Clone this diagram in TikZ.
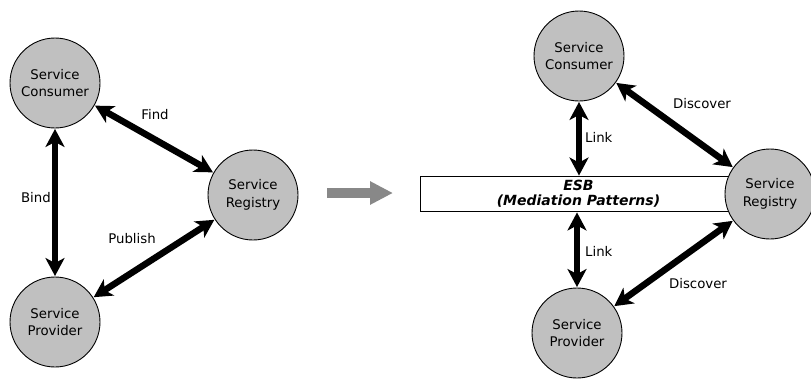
\documentclass[tikz,border=0pt]{standalone}
\usepackage{fontspec}
\setmainfont{DejaVu Sans}
\usetikzlibrary{arrows.meta}
\begin{document}
\begin{tikzpicture}[x=1pt,y=-1pt,
  svc/.style={circle,draw=black,line width=0.9pt,fill=svcgray,minimum size=90pt,inner sep=0pt,
    align=center,font=\fontsize{13.3}{17.5}\selectfont},
  dbl/.style={line width=6.5pt,{Stealth[length=18pt,width=19pt,inset=5pt]}-{Stealth[length=18pt,width=19pt,inset=5pt]},shorten <=0.5pt,shorten >=0.5pt},
  lbl/.style={font=\fontsize{13.3}{15}\selectfont,inner sep=0pt},
  flow/.style={line width=10pt,draw=flowgray,-{Triangle[length=23pt,width=22pt,inset=0pt]}}
]
\definecolor{svcgray}{RGB}{192,192,192}
\definecolor{flowgray}{RGB}{136,136,136}
\useasboundingbox (0,0) rectangle (811,378);

% classic triangle: consumer, registry, provider
\node[svc] (lc) at (55,83)  {Service\\Consumer};
\node[svc] (lr) at (253,195) {Service\\Registry};
\node[svc] (lp) at (55,322) {Service\\Provider};

\draw[dbl] (lc) -- (lr);
\draw[dbl] (lr) -- (lp);
\draw[dbl] (lc) -- (lp);

\node[lbl] (find) at (155,115) {Find};
\node[lbl] (publish) at (132,239) {Publish};
\node[lbl,anchor=east] (bind) at (51,198) {Bind};

% transition arrow
\coordinate (fa) at (327,193);
\coordinate (fb) at (393,193);
\draw[flow] (fa) -- (fb);

% bus-based arrangement
\node[draw=black,line width=0.9pt,fill=white,minimum width=316pt,minimum height=35pt,inner sep=0pt,
  align=center,font=\fontsize{14}{15}\selectfont\bfseries\itshape] (esb) at (578.5,194)
  {ESB\\(Mediation Patterns)};

\node[svc] (rc) at (579,56)  {Service\\Consumer};
\node[svc] (rr) at (770,194) {Service\\Registry};
\node[svc] (rp) at (577,333) {Service\\Provider};

\draw[dbl] (rc.south) -- (rc.south |- esb.north);
\draw[dbl] (rp.north |- esb.south) -- (rp.north);
\draw[dbl] (rc) -- (rr);
\draw[dbl] (rr) -- (rp);

\node[lbl,anchor=west] (link1) at (585,137) {Link};
\node[lbl,anchor=west] (link2) at (585,251) {Link};
\node[lbl] (disc1) at (702,104) {Discover};
\node[lbl] (disc2) at (698,284) {Discover};
\end{tikzpicture}
\end{document}
